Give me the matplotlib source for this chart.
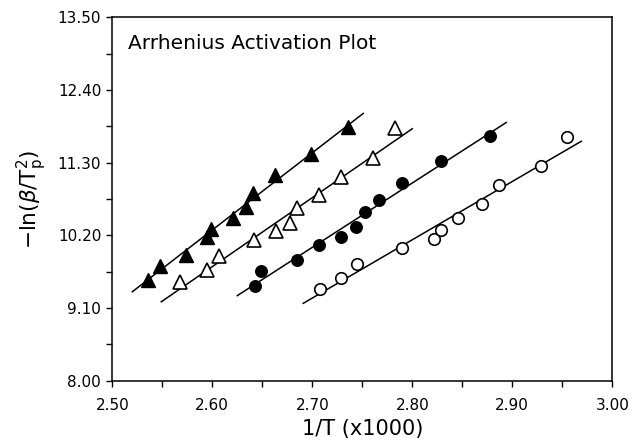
import numpy as np
import matplotlib
matplotlib.use("Agg")
import matplotlib.pyplot as plt

# ---- data (1/T x1000, -ln(beta/Tp^2)) ----
ft_x = [2.536, 2.548, 2.574, 2.595, 2.599, 2.621, 2.634, 2.641, 2.663, 2.699, 2.736]
ft_y = [9.53, 9.74, 9.91, 10.17, 10.30, 10.47, 10.63, 10.84, 11.11, 11.43, 11.84]

ot_x = [2.568, 2.595, 2.607, 2.642, 2.664, 2.678, 2.685, 2.707, 2.729, 2.761, 2.783]
ot_y = [9.50, 9.68, 9.89, 10.13, 10.27, 10.38, 10.61, 10.81, 11.08, 11.37, 11.82]

fc_x = [2.643, 2.649, 2.685, 2.707, 2.729, 2.744, 2.753, 2.767, 2.790, 2.829, 2.878]
fc_y = [9.44, 9.66, 9.83, 10.05, 10.18, 10.33, 10.56, 10.74, 10.99, 11.33, 11.71]

oc_x = [2.708, 2.729, 2.745, 2.790, 2.822, 2.829, 2.846, 2.870, 2.887, 2.929, 2.955]
oc_y = [9.39, 9.56, 9.77, 10.01, 10.14, 10.28, 10.47, 10.68, 10.96, 11.25, 11.69]

# x ranges over which the fitted lines are drawn
line_x_start = [2.520, 2.549, 2.625, 2.691]
line_x_end = [2.751, 2.800, 2.894, 2.969]

x_ticks = [2.50, 2.60, 2.70, 2.80, 2.90, 3.00]
y_ticks = [8.00, 9.10, 10.20, 11.30, 12.40, 13.50]

title_text = "Arrhenius Activation Plot"
x_label = "1/T (x1000)"
y_label = r"$-\mathrm{ln}(\beta/\mathrm{T}_\mathrm{p}^{2})$"

plt.rcParams['font.family'] = ['DejaVu Sans']
fig = plt.figure(figsize=(6.37, 4.43), dpi=100)
ax = fig.add_axes([0.1763, 0.1406, 0.7849, 0.8203])

series = [
    (ft_x, ft_y, dict(marker='^', mfc='black', mec='black', ms=9.5)),
    (ot_x, ot_y, dict(marker='^', mfc='white', mec='black', ms=9.5, mew=1.2)),
    (fc_x, fc_y, dict(marker='o', mfc='black', mec='black', ms=8.3)),
    (oc_x, oc_y, dict(marker='o', mfc='white', mec='black', ms=8.3, mew=1.2)),
]

for i, (xs, ys, st) in enumerate(series):
    k, b = np.polyfit(xs, ys, 1)
    lx = np.array([line_x_start[i], line_x_end[i]])
    ax.plot(lx, k * lx + b, color='black', lw=1.1, zorder=2)
    ax.plot(xs, ys, linestyle='none', zorder=3, **st)

ax.set_xlim(2.5, 3.0)
ax.set_ylim(8.0, 13.5)
ax.set_xticks(x_ticks)
ax.set_yticks(y_ticks)
ax.set_xticklabels([f"{v:.2f}" for v in x_ticks])
ax.set_yticklabels([f"{v:.2f}" for v in y_ticks])
ax.set_xticks(np.arange(2.55, 3.0, 0.1), minor=True)
ax.set_yticks(np.arange(8.55, 13.5, 1.1), minor=True)
ax.tick_params(which='both', direction='out', length=4.5, width=1.0,
               labelsize=11, top=False, right=False, color='black')
ax.tick_params(axis='x', which='both', pad=8)
for s in ax.spines.values():
    s.set_linewidth(1.1)

ax.set_xlabel(x_label, fontsize=15, labelpad=4)
ax.set_ylabel(y_label, fontsize=15.5, labelpad=6)
ax.text(0.032, 0.927, title_text, transform=ax.transAxes, fontsize=14.5,
        ha='left', va='center')

fig.savefig("out.png", dpi=100)
